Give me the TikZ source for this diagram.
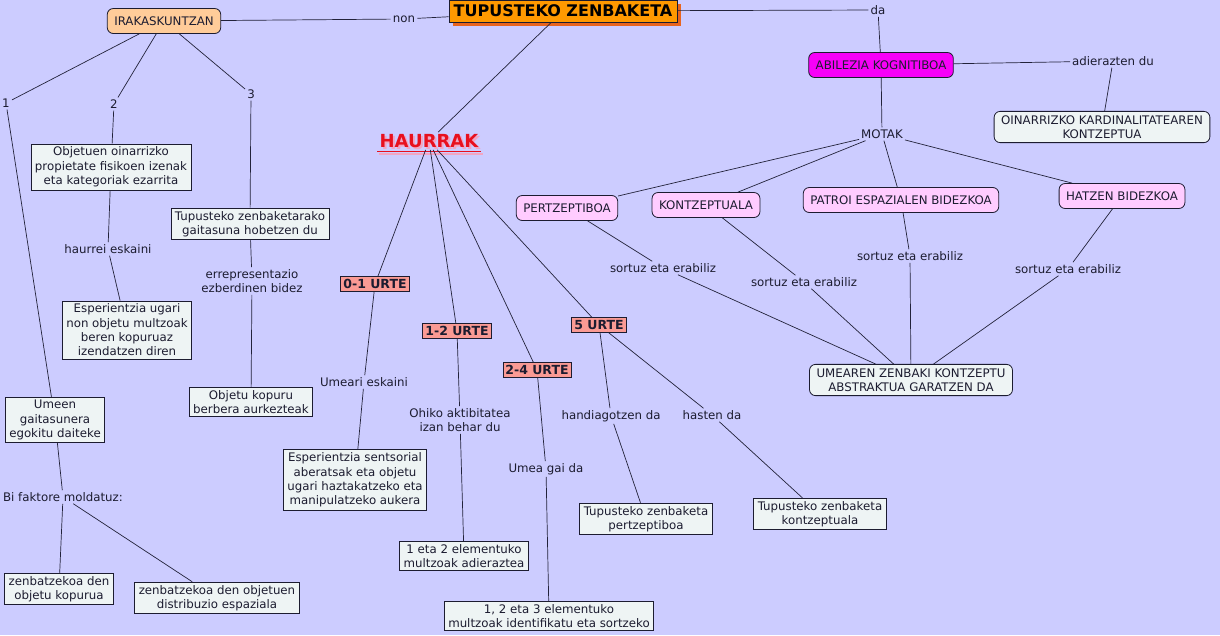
\documentclass[tikz,border=0pt]{standalone}
\usepackage{fontspec}
\setmainfont{DejaVu Sans}
\usepackage{xcolor}
\usetikzlibrary{positioning, shadows}
\definecolor{MapBack}{HTML}{CCCCFF}
\definecolor{MapInk}{HTML}{1C1C30}
\definecolor{MapLine}{HTML}{22223A}
\definecolor{TitleOrange}{HTML}{FF9900}
\definecolor{TitleShadow}{HTML}{E8641E}
\definecolor{PeachBox}{HTML}{FFCC99}
\definecolor{MagentaBox}{HTML}{F800F8}
\definecolor{PinkBox}{HTML}{FFCCFF}
\definecolor{PaleBox}{HTML}{EEF4F4}
\definecolor{SalmonBox}{HTML}{FA9A94}
\definecolor{HaurRed}{HTML}{E8101E}
\definecolor{HaurShadow}{HTML}{F2A6C4}

\begin{document}
\begin{tikzpicture}[x=1pt, y=-1pt, font=\fontsize{11.8}{14.3}\selectfont, text=MapInk,
    concept/.style={draw=MapInk, fill=PaleBox, align=center, inner xsep=4pt, inner ysep=3pt, line width=0.8pt},
    rconcept/.style={concept, rounded corners=6pt, minimum height=25pt, inner xsep=7pt},
    urte/.style={draw=MapInk, fill=SalmonBox, font=\fontsize{12.5}{14}\selectfont\bfseries, inner sep=2.5pt, line width=0.8pt},
    link/.style={align=center, inner sep=2pt},
    conn/.style={draw=MapLine, line width=0.7pt}]
    % background
    \fill[MapBack] (0,0) rectangle (1220,635);
    \useasboundingbox (0,0) rectangle (1220,635);

    % main concepts
    \node[draw=MapInk, fill=TitleOrange, line width=0.8pt, inner sep=3pt, minimum width=228pt, minimum height=22pt,
          font=\fontsize{16}{18}\selectfont\bfseries, text=black,
          general shadow={fill=TitleShadow, shadow xshift=4pt, shadow yshift=-4pt}] (tupus) at (563,11) {TUPUSTEKO ZENBAKETA};
    \node[rconcept, fill=PeachBox] (irak) at (164,21) {IRAKASKUNTZAN};
    \node[rconcept, fill=MagentaBox] (abilezia) at (881,65) {ABILEZIA KOGNITIBOA};
    \node[rconcept, inner ysep=4pt] (oinarri) at (1102,127) {OINARRIZKO KARDINALITATEAREN\\KONTZEPTUA};
    \node[font=\fontsize{18}{20}\selectfont\bfseries, text=HaurShadow, inner sep=2pt] (haurshadow) at (431,143) {HAURRAK};
    \node[font=\fontsize{18}{20}\selectfont\bfseries, text=HaurRed, inner sep=2pt] (haurrak) at (429,141) {HAURRAK};
    \draw[HaurShadow, line width=1.6pt] ([yshift=-4.5pt]haurshadow.base west) -- ([yshift=-4.5pt]haurshadow.base east);
    \draw[HaurRed, line width=1.6pt] ([yshift=-4pt]haurrak.base west) -- ([yshift=-4pt]haurrak.base east);

    % types
    \node[rconcept, fill=PinkBox] (pertz) at (567,208) {PERTZEPTIBOA};
    \node[rconcept, fill=PinkBox] (kontz) at (706,205) {KONTZEPTUALA};
    \node[rconcept, fill=PinkBox] (patroi) at (901,200) {PATROI ESPAZIALEN BIDEZKOA};
    \node[rconcept, fill=PinkBox] (hatzen) at (1122,196) {HATZEN BIDEZKOA};
    \node[rconcept, inner ysep=4pt] (umearen) at (911,380) {UMEAREN ZENBAKI KONTZEPTU\\ABSTRAKTUA GARATZEN DA};

    % teaching branch
    \node[concept] (objetuen) at (111,167) {Objetuen oinarrizko\\propietate fisikoen izenak\\eta kategoriak ezarrita};
    \node[concept] (espugari) at (127,330) {Esperientzia ugari\\non objetu multzoak\\beren kopuruaz\\izendatzen diren};
    \node[concept] (gaitasuna) at (250,224) {Tupusteko zenbaketarako\\gaitasuna hobetzen du};
    \node[concept] (kopuru) at (251,402) {Objetu kopuru\\berbera aurkezteak};
    \node[concept] (umeen) at (55,420) {Umeen\\gaitasunera\\egokitu daiteke};
    \node[concept] (zenbat1) at (59,589) {zenbatzekoa den\\objetu kopurua};
    \node[concept] (zenbat2) at (217,598) {zenbatzekoa den objetuen\\distribuzio espaziala};

    % ages
    \node[urte] (urte01) at (375,284) {0-1 URTE};
    \node[urte] (urte12) at (457,331) {1-2 URTE};
    \node[urte] (urte24) at (537,370) {2-4 URTE};
    \node[urte] (urte5) at (599,325) {5 URTE};
    \node[concept] (espsents) at (355,480) {Esperientzia sentsorial\\aberatsak eta objetu\\ugari haztakatzeko eta\\manipulatzeko aukera};
    \node[concept] (multz12) at (464,556) {1 eta 2 elementuko\\multzoak adieraztea};
    \node[concept] (multz123) at (549,616) {1, 2 eta 3 elementuko\\multzoak identifikatu eta sortzeko};
    \node[concept] (zpertz) at (646,519) {Tupusteko zenbaketa\\pertzeptiboa};
    \node[concept] (zkontz) at (820,514) {Tupusteko zenbaketa\\kontzeptuala};

    % linking phrases
    \node[link] (non) at (404,19) {non};
    \node[link] (da) at (878,10) {da};
    \node[link] (adier) at (1113,61) {adierazten du};
    \node[link] (motak) at (882,134) {MOTAK};
    \node[link] (n1) at (6,103) {1};
    \node[link] (n2) at (114,104) {2};
    \node[link] (n3) at (251,94) {3};
    \node[link] (haurrei) at (108,249) {haurrei eskaini};
    \node[link] (errep) at (252,281) {errepresentazio\\ezberdinen bidez};
    \node[link] (bifak) at (63,497) {Bi faktore moldatuz:};
    \node[link] (umeari) at (364,382) {Umeari eskaini};
    \node[link] (ohiko) at (460,420) {Ohiko aktibitatea\\izan behar du};
    \node[link] (umeagai) at (546,469) {Umea gai da};
    \node[link] (handi) at (611,416) {handiagotzen da};
    \node[link] (hasten) at (712,415) {hasten da};
    \node[link] (sortuza) at (663,268) {sortuz eta erabiliz};
    \node[link] (sortuzb) at (804,282) {sortuz eta erabiliz};
    \node[link] (sortuzc) at (910,256) {sortuz eta erabiliz};
    \node[link] (sortuzd) at (1068,269) {sortuz eta erabiliz};

    % connectors
    \draw[conn] (irak) -- (non) -- (tupus);
    \draw[conn] (tupus) -- (da) -- (abilezia);
    \draw[conn] (tupus) -- (haurrak);
    \draw[conn] (abilezia) -- (adier) -- (oinarri);
    \draw[conn] (abilezia) -- (motak);
    \foreach \t in {pertz, kontz, patroi, hatzen}
        \draw[conn] (motak) -- (\t);
    \draw[conn] (pertz) -- (sortuza) -- (umearen);
    \draw[conn] (kontz) -- (sortuzb) -- (umearen);
    \draw[conn] (patroi) -- (sortuzc) -- (umearen);
    \draw[conn] (hatzen) -- (sortuzd) -- (umearen);

    \draw[conn] (irak) -- (n1) -- (umeen);
    \draw[conn] (irak) -- (n2) -- (objetuen);
    \draw[conn] (irak) -- (n3) -- (gaitasuna);
    \draw[conn] (objetuen) -- (haurrei) -- (espugari);
    \draw[conn] (gaitasuna) -- (errep) -- (kopuru);
    \draw[conn] (umeen) -- (bifak) -- (zenbat1);
    \draw[conn] (bifak) -- (zenbat2);

    \foreach \u in {urte01, urte12, urte24, urte5}
        \draw[conn] (haurrak) -- (\u);
    \draw[conn] (urte01) -- (umeari) -- (espsents);
    \draw[conn] (urte12) -- (ohiko) -- (multz12);
    \draw[conn] (urte24) -- (umeagai) -- (multz123);
    \draw[conn] (urte5) -- (handi) -- (zpertz);
    \draw[conn] (urte5) -- (hasten) -- (zkontz);
\end{tikzpicture}
\end{document}
